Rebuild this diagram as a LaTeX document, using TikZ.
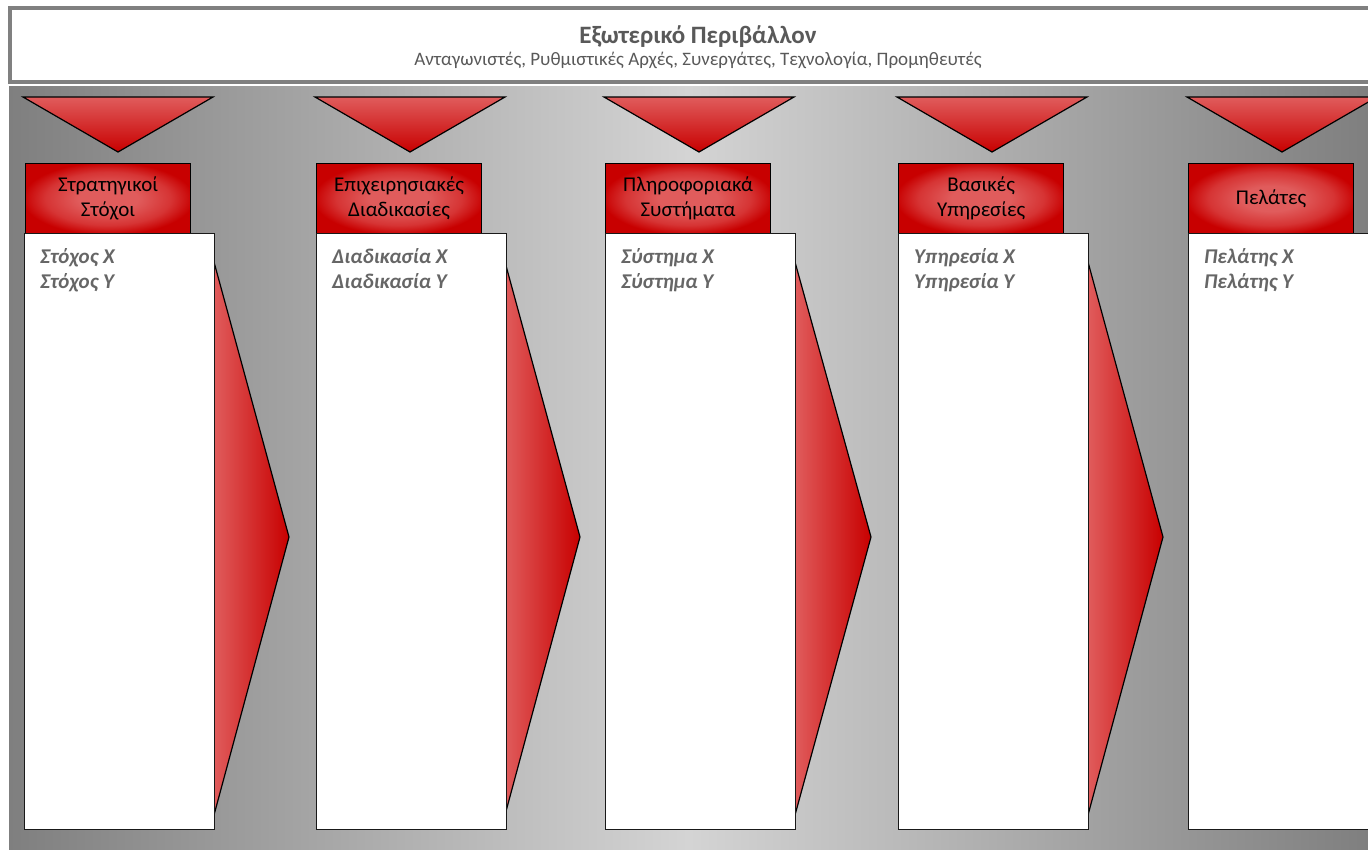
\documentclass[tikz,border=0pt]{standalone}
\usepackage{fontspec}
\setmainfont{Carlito}
\usepackage{xcolor}
\usepackage{tikz}
\usetikzlibrary{shapes}
\definecolor{redlight}{HTML}{E05C5C}
\definecolor{redmid}{HTML}{D63434}
\definecolor{reddark}{HTML}{C80000}
\definecolor{bgdark}{HTML}{7F7F7F}
\definecolor{bglight}{HTML}{D4D4D4}
\definecolor{textgray}{HTML}{595959}
\definecolor{itemgray}{HTML}{666666}
\definecolor{framegray}{HTML}{808080}
\pgfdeclarehorizontalshading{backdropshade}{100bp}{color(0bp)=(bgdark); color(25bp)=(bgdark); color(50bp)=(bglight); color(75bp)=(bgdark); color(100bp)=(bgdark)}
\pgfdeclareradialshading{glow}{\pgfpoint{0bp}{0bp}}{color(0bp)=(redlight); color(9bp)=(redlight); color(19bp)=(redmid); color(26bp)=(reddark); color(50bp)=(reddark)}
\tikzstyle{banner}=[rectangle,draw=framegray,line width=4pt,fill=white,minimum width=1377pt,minimum height=74pt,anchor=north west]
\tikzstyle{title}=[text=textgray,font=\bfseries\fontsize{25}{30}\selectfont]
\tikzstyle{subtitle}=[text=textgray,font=\fontsize{19}{23}\selectfont]
\tikzstyle{funnel}=[draw=black,line width=1.2pt,top color=redlight,bottom color=reddark]
\tikzstyle{flow}=[draw=black,line width=1.2pt,left color=redlight,right color=reddark]
\tikzstyle{header}=[rectangle,draw=black,line width=1.2pt,shade,shading=glow,minimum width=165pt,minimum height=70pt,anchor=north west,align=center,font=\fontsize{21}{25}\selectfont]
\tikzstyle{column}=[rectangle,draw=black!90,line width=1.2pt,fill=white,minimum width=190pt,minimum height=596pt,anchor=north west]
\tikzstyle{items}=[anchor=north west,align=left,inner sep=0pt,text=itemgray,font=\bfseries\itshape\fontsize{21}{25}\selectfont]

\begin{document}
\begin{tikzpicture}[x=1pt,y=-1pt]
        \useasboundingbox (0,0) rectangle (1368,849);
        \clip (0,0) rectangle (1368,849);
        % backdrop and outside world
        \shade[shading=backdropshade] (9,86) rectangle (1368,849);
        \node at (8,6) [banner] (environment) {};
        \node at (698,37) [title] (envtitle) {Εξωτερικό Περιβάλλον};
        \node at (698,60) [subtitle] (envlist) {Ανταγωνιστές, Ρυθμιστικές Αρχές, Συνεργάτες, Τεχνολογία, Προμηθευτές};
        % funnels from the environment
        \shadedraw[funnel] (23,97) -- (213,97) -- (118,152) -- cycle;
        \shadedraw[funnel] (315,97) -- (505,97) -- (410,152) -- cycle;
        \shadedraw[funnel] (604,97) -- (794,97) -- (699,152) -- cycle;
        \shadedraw[funnel] (897,97) -- (1087,97) -- (992,152) -- cycle;
        \shadedraw[funnel] (1187,97) -- (1377,97) -- (1282,152) -- cycle;
        % column headers
        \node at (25,163) [header] (goalshead) {Στρατηγικοί\\Στόχοι};
        \node at (316,163) [header] (processhead) {Επιχειρησιακές\\Διαδικασίες};
        \node at (605,163) [header] (systemhead) {Πληροφοριακά\\Συστήματα};
        \node at (898,163) [header] (servicehead) {Βασικές\\Υπηρεσίες};
        \node at (1188,163) [header] (clienthead) {Πελάτες};
        % flow between columns
        \shadedraw[flow] (214,262) -- (289,537) -- (214,815) -- cycle;
        \shadedraw[flow] (505,262) -- (580,537) -- (505,815) -- cycle;
        \shadedraw[flow] (795,262) -- (871,537) -- (795,815) -- cycle;
        \shadedraw[flow] (1088,262) -- (1163,537) -- (1088,815) -- cycle;
        % columns
        \node at (24,233) [column] (goals) {};
        \node at (316,233) [column] (process) {};
        \node at (605,233) [column] (system) {};
        \node at (898,233) [column] (service) {};
        \node at (1188,233) [column] (client) {};
        \node at (40,248) [items] (goalitems) {Στόχος X\\Στόχος Y};
        \node at (332,248) [items] (processitems) {Διαδικασία X\\Διαδικασία Y};
        \node at (621,248) [items] (systemitems) {Σύστημα X\\Σύστημα Y};
        \node at (914,248) [items] (serviceitems) {Υπηρεσία X\\Υπηρεσία Y};
        \node at (1204,248) [items] (clientitems) {Πελάτης X\\Πελάτης Y};
      \end{tikzpicture}
\end{document}
